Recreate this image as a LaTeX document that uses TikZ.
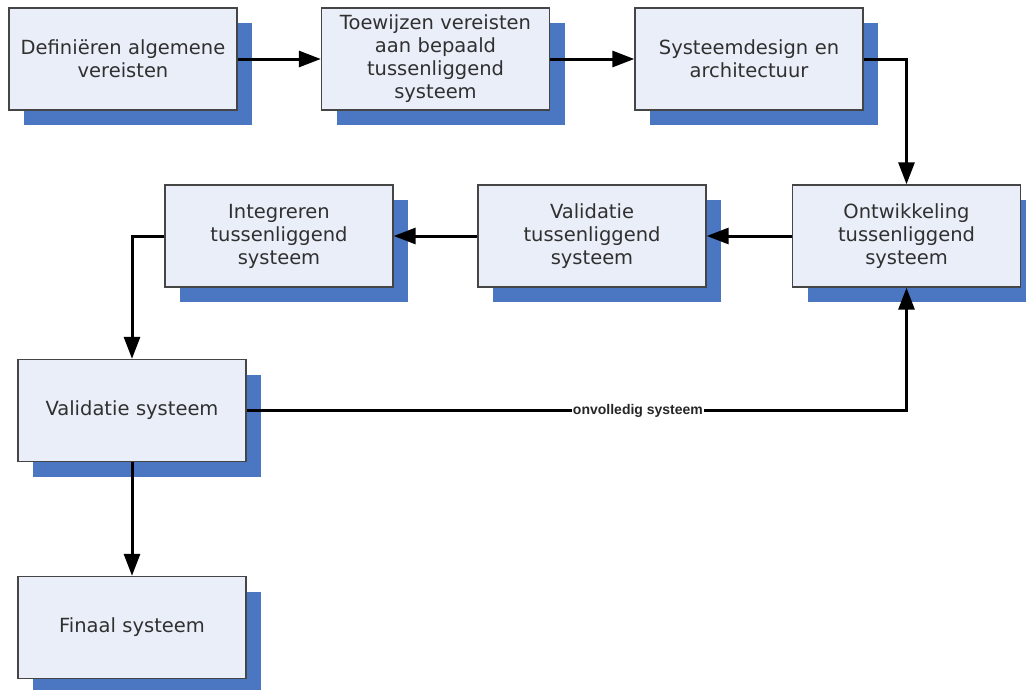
\documentclass[tikz,border=0pt]{standalone}
\usepackage{fontspec}
\setmainfont{DejaVu Sans}
\newfontfamily\labelfont{Liberation Sans}
\usetikzlibrary{arrows.meta}
\definecolor{boxfill}{HTML}{E9EEF8}
\definecolor{boxshadow}{HTML}{4A76C2}
\definecolor{boxline}{HTML}{454545}
\definecolor{textcol}{HTML}{303030}
\begin{document}
\begin{tikzpicture}[x=1pt,y=-1pt,
  procbox/.style={draw=boxline, line width=1.4pt, fill=boxfill,
    minimum width=228pt, minimum height=102pt, inner sep=2pt,
    align=center, text width=222pt, text=textcol,
    font=\fontsize{19.5}{23}\selectfont},
  flow/.style={line width=3pt, -{Triangle[length=22pt,width=16pt]}}]
\useasboundingbox (0,0) rectangle (1026,689);

% shadows first, so the boxes sit on top of them
\foreach \cx/\cy in {123/59, 435.5/59, 749/59, 906.5/236, 592/236, 279/236, 132/410.5, 132/627.5}
  \fill[boxshadow] (\cx-114+15,\cy-51+15) rectangle (\cx+114+15,\cy+51+15);

\node[procbox] (def) at (123,59) {Definiëren algemene\\vereisten};
\node[procbox] (toe) at (435.5,59) {Toewijzen vereisten\\aan bepaald\\tussenliggend\\systeem};
\node[procbox] (sys) at (749,59) {Systeemdesign en\\architectuur};
\node[procbox] (ont) at (906.5,236) {Ontwikkeling\\tussenliggend\\systeem};
\node[procbox] (val) at (592,236) {Validatie\\tussenliggend\\systeem};
\node[procbox] (int) at (279,236) {Integreren\\tussenliggend\\systeem};
\node[procbox] (vsys) at (132,410.5) {Validatie systeem};
\node[procbox] (fin) at (132,627.5) {Finaal systeem};

\draw[flow] (def.east) -- (toe.west);
\draw[flow] (toe.east) -- (sys.west);
\draw[flow] (sys.east) -| (ont.north);
\draw[flow] (ont.west) -- (val.east);
\draw[flow] (val.west) -- (int.east);
\draw[flow] (int.west) -| (vsys.north);
\draw[flow] (vsys.south) -- (fin.north);
\draw[flow] (vsys.east) -| (ont.south)
  node[pos=0.2965, fill=white, inner xsep=1pt, inner ysep=1pt,
       font=\labelfont\bfseries\fontsize{14}{15}\selectfont, text=black!85]
  (lab) {onvolledig systeem};
\end{tikzpicture}
\end{document}
